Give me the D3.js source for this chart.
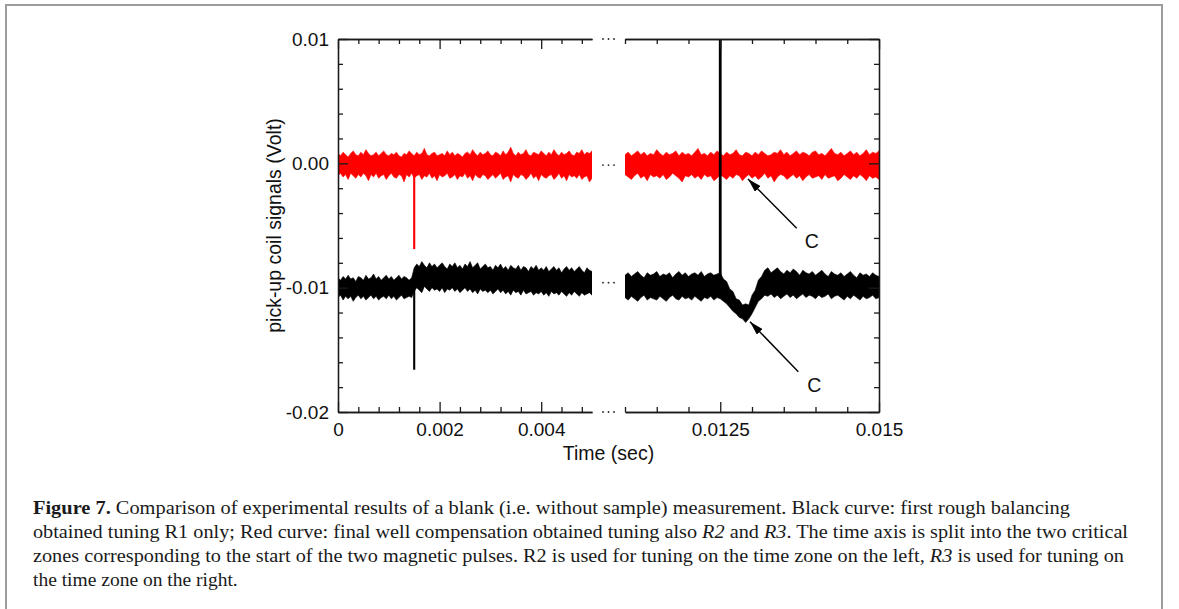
<!DOCTYPE html>
<html>
<head>
<meta charset="utf-8">
<script src="https://cdn.jsdelivr.net/npm/d3@7"></script>
<style>
  body { margin: 0; background: #fff; }
  .axis path, .axis line { stroke: #1a1a1a; stroke-width: 1.3; }
  .axis text { font-family: "Liberation Sans", Arial, sans-serif; font-size: 19px; fill: #111; }
  .title { font-family: "Liberation Sans", Arial, sans-serif; font-size: 19.5px; fill: #111; }
  .caption { font-family: "Liberation Serif", "Times New Roman", serif; font-size: 19.5px; fill: #1a1a1a; }
</style>
</head>
<body>
<svg id="chart" width="1179" height="609"></svg>
<script>
// signal envelopes, in mV (upper / lower edge of the noise band)
// left zone: t = 0 .. 0.005 s, every 0.05 ms
const redHiL = [
  0.8,0.6,0.9,0.7,0.5,0.8,1.0,0.7,0.6,0.9, 0.7,1.1,0.8,0.6,0.7,0.9,0.6,0.8,1.0,0.7,
  0.6,0.8,0.7,0.9,0.6,0.5,0.8,0.7,1.0,0.8, 0.6,0.9,0.7,0.8,1.2,0.7,0.6,0.8,0.9,0.6,
  0.7,0.8,0.6,1.0,0.7,0.9,0.6,0.8,0.7,0.5, 0.8,0.9,0.7,1.1,0.8,0.6,0.9,0.7,0.8,1.0,
  0.7,0.6,0.9,0.8,0.6,1.0,0.7,0.9,1.3,0.8, 0.6,0.9,0.7,0.8,1.1,0.7,0.6,0.9,0.8,0.7,
  1.0,0.8,0.6,0.9,0.7,1.1,0.8,0.6,0.9,0.7, 0.8,1.0,0.7,0.6,0.9,0.8,1.1,0.7,0.9,0.8, 1.0];
const redLoL = [
  -1.0,-0.8,-1.1,-0.9,-1.3,-0.8,-1.0,-1.2,-0.9,-1.1, -0.8,-1.0,-1.4,-0.9,-1.1,-0.8,-1.2,-1.0,-0.9,-1.3,
  -1.0,-0.8,-1.1,-1.2,-0.9,-1.0,-1.5,-0.9,-1.1,-0.8, -1.2,-1.0,-0.9,-1.3,-1.0,-1.1,-0.8,-1.2,-1.0,-1.4,
  -0.9,-1.1,-1.0,-0.8,-1.2,-1.1,-0.9,-1.3,-1.0,-1.1, -0.8,-1.2,-1.0,-1.4,-0.9,-1.1,-1.2,-0.9,-1.0,-1.3,
  -1.1,-0.9,-1.2,-1.0,-0.8,-1.3,-1.1,-1.0,-1.5,-0.9, -1.1,-1.2,-0.9,-1.0,-1.3,-1.1,-0.8,-1.2,-1.0,-1.4,
  -0.9,-1.1,-1.2,-1.0,-0.9,-1.3,-1.1,-0.8,-1.2,-1.0, -1.4,-0.9,-1.1,-1.0,-1.2,-0.9,-1.3,-1.1,-1.0,-1.5, -1.2];
const blackHiL = [
  -9.2,-9.4,-9.1,-9.3,-9.0,-9.3,-9.2,-9.5,-9.1,-9.2, -9.4,-9.0,-9.3,-9.2,-8.9,-9.3,-9.1,-9.4,-9.2,-9.0,
  -9.3,-9.1,-9.4,-9.2,-9.0,-9.3,-9.1,-9.2,-9.4,-9.2, -8.4,-8.1,-8.3,-7.9,-8.2,-8.4,-8.0,-8.3,-8.1,-8.4,
  -8.2,-8.0,-8.3,-8.5,-8.1,-8.3,-8.0,-8.4,-8.2,-8.5, -8.1,-8.3,-7.9,-8.4,-8.2,-8.0,-8.5,-8.3,-8.1,-8.4,
  -8.3,-8.6,-8.2,-8.4,-8.1,-8.5,-8.3,-8.6,-8.2,-8.4, -8.5,-8.2,-8.6,-8.3,-8.4,-8.7,-8.3,-8.5,-8.2,-8.6,
  -8.4,-8.6,-8.3,-8.7,-8.5,-8.3,-8.6,-8.4,-8.8,-8.5, -8.3,-8.6,-8.4,-8.7,-8.5,-8.3,-8.6,-8.8,-8.4,-8.6, -8.7];
const blackLoL = [
  -10.8,-10.6,-11.0,-10.7,-10.9,-10.7,-11.1,-10.8,-10.6,-10.9, -10.7,-11.0,-10.8,-10.6,-10.9,-10.7,-11.0,-10.8,-10.7,-10.9,
  -10.6,-10.9,-10.7,-11.0,-10.8,-10.6,-10.9,-10.8,-10.7,-10.8, -10.3,-10.0,-10.2,-10.4,-9.9,-10.1,-10.3,-10.0,-10.2,-10.1,
  -10.3,-10.0,-10.4,-10.1,-10.2,-10.0,-10.3,-10.1,-10.4,-10.2, -10.0,-10.3,-10.1,-10.4,-10.2,-10.5,-10.1,-10.3,-10.2,-10.4,
  -10.2,-10.5,-10.3,-10.1,-10.4,-10.2,-10.5,-10.3,-10.6,-10.2, -10.4,-10.3,-10.6,-10.2,-10.5,-10.4,-10.3,-10.6,-10.4,-10.5,
  -10.3,-10.6,-10.4,-10.7,-10.3,-10.5,-10.4,-10.6,-10.3,-10.5, -10.7,-10.4,-10.6,-10.3,-10.5,-10.7,-10.4,-10.6,-10.5,-10.4, -10.6];

// right zone: t = 0.011 .. 0.015 s, every 0.05 ms
const redHiR = [
  0.7,0.9,0.6,0.8,1.0,0.7,0.9,0.6,0.8,0.7, 1.1,0.8,0.6,0.9,0.7,0.8,1.0,0.6,0.9,0.7,
  0.8,0.6,0.9,1.2,0.7,0.8,0.6,0.9,0.7,1.0, 0.8,0.6,0.9,0.7,0.8,1.1,0.7,0.6,0.9,0.8,
  0.6,0.9,0.7,1.0,0.8,0.6,0.7,0.9,0.8,1.1, 0.7,0.9,0.6,0.8,1.0,0.7,0.9,0.8,0.6,0.9,
  1.0,0.7,0.8,0.6,0.9,1.2,0.8,0.7,0.9,0.6, 0.8,1.0,0.7,0.9,0.6,0.8,1.1,0.7,0.9,0.8, 1.0];
const redLoR = [
  -0.9,-1.1,-1.3,-1.0,-0.8,-1.2,-1.0,-1.4,-0.9,-1.1, -1.0,-1.2,-0.9,-1.3,-1.1,-0.8,-1.0,-1.2,-1.5,-1.0,
  -1.1,-0.9,-1.2,-1.0,-1.3,-0.9,-1.1,-1.0,-1.4,-1.2, -0.9,-1.1,-1.3,-1.0,-1.2,-0.9,-1.0,-1.4,-1.1,-0.9,
  -1.2,-1.0,-1.3,-1.1,-0.8,-1.2,-1.0,-1.5,-1.1,-0.9, -1.0,-1.3,-1.1,-0.9,-1.2,-1.0,-1.4,-1.1,-0.9,-1.2,
  -1.1,-1.0,-1.3,-0.9,-1.2,-1.1,-1.0,-1.4,-1.2,-0.9, -1.1,-1.3,-1.0,-1.2,-0.9,-1.1,-1.4,-1.0,-1.2,-1.1, -1.3];
const blackHiR = [
  -9.0,-8.8,-9.1,-8.9,-8.7,-9.0,-9.2,-8.8,-9.0,-8.9, -8.7,-9.1,-8.9,-9.0,-8.8,-9.2,-8.9,-8.7,-9.0,-8.8,
  -9.1,-8.9,-8.8,-9.0,-8.7,-9.1,-8.9,-8.8,-9.0,-8.9, -8.8,-9.3,-9.5,-10.1,-10.3,-10.9,-11.0,-11.4,-11.3,-11.4,
  -10.6,-10.2,-9.4,-9.1,-8.6,-8.4,-8.8,-8.6,-8.4,-8.7, -8.9,-8.6,-8.8,-8.5,-8.7,-9.0,-8.6,-8.8,-8.9,-8.7,
  -9.0,-8.8,-8.6,-8.9,-9.1,-8.7,-8.9,-9.0,-8.8,-9.1, -8.9,-8.7,-9.0,-9.2,-8.8,-9.0,-8.9,-9.1,-8.8,-9.0, -9.1];
const blackLoR = [
  -10.8,-11.0,-10.7,-10.9,-11.1,-10.8,-10.6,-11.0,-10.8,-10.9, -11.0,-10.7,-10.9,-11.1,-10.8,-10.6,-10.9,-11.0,-10.7,-10.9,
  -10.8,-11.0,-10.7,-10.9,-11.1,-10.8,-10.9,-10.7,-11.0,-10.8, -10.9,-11.1,-11.3,-11.6,-11.9,-12.1,-12.4,-12.5,-12.8,-12.5,
  -12.1,-11.6,-11.1,-10.9,-10.6,-10.7,-10.5,-10.8,-10.6,-10.9, -10.7,-10.5,-10.8,-10.6,-10.9,-10.7,-10.5,-10.8,-10.6,-10.7,
  -10.9,-10.6,-10.8,-10.7,-10.5,-10.9,-10.7,-10.6,-10.8,-11.0, -10.7,-10.9,-10.6,-10.8,-11.0,-10.7,-10.9,-10.8,-10.6,-10.9, -10.8];

// pulse spikes (time in s, peak in mV)
const spikeSeries = ['red', 'black', 'black'];
const spikeTime = [0.0015, 0.0015, 0.0125];
const spikePeak = [-6.9, -16.6, 14];

// ticks
const xMajorL = [0, 0.002, 0.004];
const xLabelsL = ['0', '0.002', '0.004'];
const xMinorL = [0.0004, 0.0008, 0.0012, 0.0016, 0.0024, 0.0028, 0.0032, 0.0036, 0.0044, 0.0048];
const xMajorR = [0.0125, 0.015];
const xLabelsR = ['0.0125', '0.015'];
const xMinorR = [0.011, 0.0115, 0.012, 0.013, 0.0135, 0.014, 0.0145];
const yMajor = [-0.02, -0.01, 0, 0.01];
const yLabels = ['-0.02', '-0.01', '0.00', '0.01'];
const yMinor = [-0.018, -0.016, -0.014, -0.012, -0.008, -0.006, -0.004, -0.002, 0.002, 0.004, 0.006, 0.008];

// "C" annotations: arrow tail, arrow head, label (time s, mV)
const annTail = [[0.013704, -5.22], [0.013729, -16.76]];
const annHead = [[0.012937, -1.26], [0.012969, -12.74]];
const annLabel = [[0.01394, -6.81], [0.01398, -18.37]];

const captionLines = [
  [['Figure 7.', 'b'], [' Comparison of experimental results of a blank (i.e. without sample) measurement. Black curve: first rough balancing']],
  [['obtained tuning R1 only; Red curve: final well compensation obtained tuning also '], ['R2', 'i'], [' and '], ['R3', 'i'], ['. The time axis is split into the two critical']],
  [['zones corresponding to the start of the two magnetic pulses. R2 is used for tuning on the time zone on the left, '], ['R3', 'i'], [' is used for tuning on']],
  [['the time zone on the right.']]
];

const leftTime = d3.range(redHiL.length).map(i => i * 5e-5);
const rightTime = d3.range(redHiR.length).map(i => 0.011 + i * 5e-5);

const svg = d3.select('#chart');
const xL = d3.scaleLinear().domain([0, 0.005]).range([338, 592]);
const xR = d3.scaleLinear().domain([0.011, 0.015]).range([625, 879]);
const y = d3.scaleLinear().domain([-0.02, 0.01]).range([412, 39]);

// outer frame of the figure
svg.append('rect')
  .attr('x', 6).attr('y', 5).attr('width', 1156).attr('height', 640)
  .attr('fill', 'none').attr('stroke', '#9c9c9c').attr('stroke-width', 2);

const defs = svg.append('defs');
defs.append('clipPath').attr('id', 'clipL').append('rect')
  .attr('x', xL.range()[0]).attr('y', y(0.01))
  .attr('width', xL.range()[1] - xL.range()[0]).attr('height', y(-0.02) - y(0.01));
defs.append('clipPath').attr('id', 'clipR').append('rect')
  .attr('x', xR.range()[0]).attr('y', y(0.01))
  .attr('width', xR.range()[1] - xR.range()[0]).attr('height', y(-0.02) - y(0.01));
defs.append('marker')
  .attr('id', 'arrow').attr('viewBox', '0 0 14 8')
  .attr('refX', 14).attr('refY', 4)
  .attr('markerWidth', 14).attr('markerHeight', 8)
  .attr('markerUnits', 'userSpaceOnUse').attr('orient', 'auto')
  .append('path').attr('d', 'M0,0 L14,4 L0,8 Z').attr('fill', '#000');

function band(times, hi, lo) {
  return times.map((t, i) => ({ t: t, hi: hi[i] / 1000, lo: lo[i] / 1000 }));
}

function drawZone(x, clipId, times, curves) {
  const zone = svg.append('g').attr('clip-path', 'url(#' + clipId + ')');
  const area = d3.area().x(d => x(d.t)).y0(d => y(d.lo)).y1(d => y(d.hi));
  curves.forEach(c => {
    zone.append('path')
      .datum(band(times, c.hi, c.lo))
      .attr('d', area)
      .attr('fill', c.color)
      .attr('stroke', c.color)
      .attr('stroke-width', 0.6);
  });
  // spikes falling inside this zone
  spikeTime.forEach((t, i) => {
    if (t < x.domain()[0] || t > x.domain()[1]) return;
    const c = curves.find(k => k.name === spikeSeries[i]);
    const idx = d3.bisectLeft(times, t - 1e-9);
    const base = (c.hi[idx] + c.lo[idx]) / 2000;
    zone.append('line')
      .attr('x1', x(t)).attr('x2', x(t))
      .attr('y1', y(base)).attr('y2', y(spikePeak[i] / 1000))
      .attr('stroke', c.color)
      .attr('stroke-width', t > 0.01 ? 2.8 : 2.1);
  });
}

drawZone(xL, 'clipL', leftTime, [
  { name: 'red', color: '#ff0000', hi: redHiL, lo: redLoL },
  { name: 'black', color: '#000000', hi: blackHiL, lo: blackLoL }
]);
drawZone(xR, 'clipR', rightTime, [
  { name: 'red', color: '#ff0000', hi: redHiR, lo: redLoR },
  { name: 'black', color: '#000000', hi: blackHiR, lo: blackLoR }
]);

// axes: ticks point inward, majors 10px, minors 5px
function addAxis(gen, tx, ty, values, size, labels, pad) {
  gen.tickValues(values).tickSize(-size).tickSizeOuter(0);
  if (labels) gen.tickFormat((d, i) => labels[i]).tickPadding(pad);
  else gen.tickFormat('');
  svg.append('g').attr('class', 'axis')
    .attr('transform', 'translate(' + tx + ',' + ty + ')')
    .call(gen);
}

const yBottom = y(-0.02), yTop = y(0.01);
addAxis(d3.axisBottom(xL), 0, yBottom, xMinorL, 5);
addAxis(d3.axisBottom(xL), 0, yBottom, xMajorL, 10, xLabelsL, 11);
addAxis(d3.axisTop(xL), 0, yTop, xMinorL, 5);
addAxis(d3.axisTop(xL), 0, yTop, xMajorL, 10);
addAxis(d3.axisBottom(xR), 0, yBottom, xMinorR, 5);
addAxis(d3.axisBottom(xR), 0, yBottom, xMajorR, 10, xLabelsR, 11);
addAxis(d3.axisTop(xR), 0, yTop, xMinorR, 5);
addAxis(d3.axisTop(xR), 0, yTop, xMajorR, 10);
addAxis(d3.axisLeft(y), xL.range()[0], 0, yMinor, 5);
addAxis(d3.axisLeft(y), xL.range()[0], 0, yMajor, 10, yLabels, 9);
addAxis(d3.axisRight(y), xR.range()[1], 0, yMinor, 5);
addAxis(d3.axisRight(y), xR.range()[1], 0, yMajor, 10);

// break marks between the two time zones
const gapMid = (xL.range()[1] + xR.range()[0]) / 2;
[0.01, -0.00014, -0.0096, -0.02].forEach(v => {
  [-5.5, 0, 5.5].forEach(dx => {
    svg.append('circle').attr('cx', gapMid + dx).attr('cy', y(v)).attr('r', 0.9).attr('fill', '#222');
  });
});

// axis titles
svg.append('text').attr('class', 'title')
  .attr('x', (xL.range()[0] + xR.range()[1]) / 2).attr('y', 460)
  .attr('text-anchor', 'middle')
  .text('Time (sec)');
svg.append('text').attr('class', 'title')
  .attr('transform', 'translate(281,' + ((yTop + yBottom) / 2) + ') rotate(-90)')
  .attr('text-anchor', 'middle')
  .text('pick-up coil signals (Volt)');

// annotations
annTail.forEach((tail, i) => {
  svg.append('line')
    .attr('x1', xR(tail[0])).attr('y1', y(tail[1] / 1000))
    .attr('x2', xR(annHead[i][0])).attr('y2', y(annHead[i][1] / 1000))
    .attr('stroke', '#000').attr('stroke-width', 1.4)
    .attr('marker-end', 'url(#arrow)');
  svg.append('text').attr('class', 'title')
    .attr('x', xR(annLabel[i][0])).attr('y', y(annLabel[i][1] / 1000))
    .attr('text-anchor', 'middle')
    .text('C');
});

// caption
const captionWidths = [1037, 1095, 1091, null];
captionLines.forEach((parts, li) => {
  const t = svg.append('text').attr('class', 'caption')
    .attr('x', 33).attr('y', 514 + li * 24);
  parts.forEach(p => {
    const s = t.append('tspan').text(p[0]);
    if (p[1] === 'b') s.style('font-weight', 'bold');
    if (p[1] === 'i') s.style('font-style', 'italic');
  });
  if (captionWidths[li]) t.attr('textLength', captionWidths[li]).attr('lengthAdjust', 'spacingAndGlyphs');
});
</script>
</body>
</html>
